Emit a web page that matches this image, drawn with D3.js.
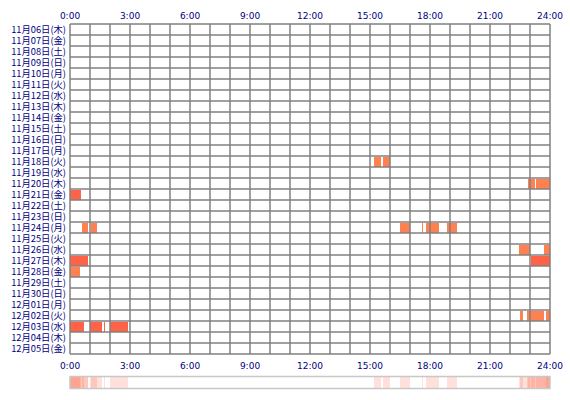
<!DOCTYPE html>
<html><head><meta charset="utf-8">
<script src="https://cdn.jsdelivr.net/npm/d3@7"></script>
<style>body{margin:0;background:#fff}</style></head>
<body><svg id="c" width="570" height="400"></svg>
<script>
const days = ["11月06日(木)","11月07日(金)","11月08日(土)","11月09日(日)","11月10日(月)","11月11日(火)","11月12日(水)","11月13日(木)","11月14日(金)","11月15日(土)","11月16日(日)","11月17日(月)","11月18日(火)","11月19日(水)","11月20日(木)","11月21日(金)","11月22日(土)","11月23日(日)","11月24日(月)","11月25日(火)","11月26日(水)","11月27日(木)","11月28日(金)","11月29日(土)","11月30日(日)","12月01日(月)","12月02日(火)","12月03日(水)","12月04日(木)","12月05日(金)"];
const hourTicks = [0,3,6,9,12,15,18,21,24];
const tickLabels = ["0:00","3:00","6:00","9:00","12:00","15:00","18:00","21:00","24:00"];
// [dayIndex, startHour, endHour, strong]
const segments = [
 [12,15.2,15.55,0],[12,15.65,16.0,0],
 [14,22.9,23.25,0],[14,23.3,24,0],
 [15,0,0.55,1],
 [18,0.6,0.9,0],[18,1.05,1.35,0],[18,16.5,17.0,0],[18,17.6,17.65,0],[18,17.8,18.45,0],[18,18.85,19.35,0],
 [20,22.45,23.0,0],[20,23.7,24,0],
 [21,0,0.9,1],[21,23.05,24,1],
 [22,0,0.5,0],
 [26,22.5,22.65,0],[26,22.85,23.7,0],[26,23.8,24,0],
 [27,0,0.7,1],[27,1.0,1.6,1],[27,1.7,1.75,1],[27,2.0,2.9,1]
];
const svg = d3.select("#c");
const x = d3.scaleLinear().domain([0,24]).range([70,550]);
const y = d3.scaleBand().domain(d3.range(days.length)).range([24,354]).padding(0);
const g = svg.append("g");
g.selectAll("rect.s").data(segments).join("rect")
 .attr("x",d=>x(d[1])).attr("width",d=>x(d[2])-x(d[1]))
 .attr("y",d=>y(d[0])+1).attr("height",y.bandwidth()-1)
 .attr("fill",d=>d[3]?"#ff6347":"#ff8050");
g.selectAll("line.v").data(d3.range(25)).join("line")
 .attr("x1",d=>x(d)).attr("x2",d=>x(d)).attr("y1",24).attr("y2",354)
 .attr("stroke","#808080").attr("stroke-width",1.5);
g.selectAll("line.h").data(d3.range(days.length+1)).join("line")
 .attr("x1",70).attr("x2",550).attr("y1",d=>24+d*y.bandwidth()).attr("y2",d=>24+d*y.bandwidth())
 .attr("stroke","#808080").attr("stroke-width",1.5);
const font = "'Noto Sans CJK JP', sans-serif";
g.selectAll("text.d").data(days).join("text")
 .attr("x",66).attr("y",(d,i)=>y(i)+y.bandwidth()/2+3.5)
 .attr("text-anchor","end").attr("font-size",9.3).attr("font-family",font).attr("fill","#000080").text(d=>d);
[15,365].forEach(yy=>{
 g.selectAll(null).data(hourTicks).join("text")
  .attr("x",d=>x(d)).attr("y",yy+4).attr("text-anchor","middle")
  .attr("font-size",9).attr("font-family","'DejaVu Sans', sans-serif").attr("fill","#000080")
  .text((d,i)=>tickLabels[i]);
});
const sg = svg.append("g");
sg.selectAll("rect").data(segments).join("rect")
 .attr("x",d=>x(d[1])).attr("width",d=>x(d[2])-x(d[1]))
 .attr("y",377).attr("height",11).attr("fill","#ff6347").attr("fill-opacity",0.2);
sg.append("rect").attr("x",70).attr("y",376.5).attr("width",480).attr("height",12)
 .attr("fill","none").attr("stroke","#c8c8c8").attr("stroke-width",1.5);
</script></body></html>
